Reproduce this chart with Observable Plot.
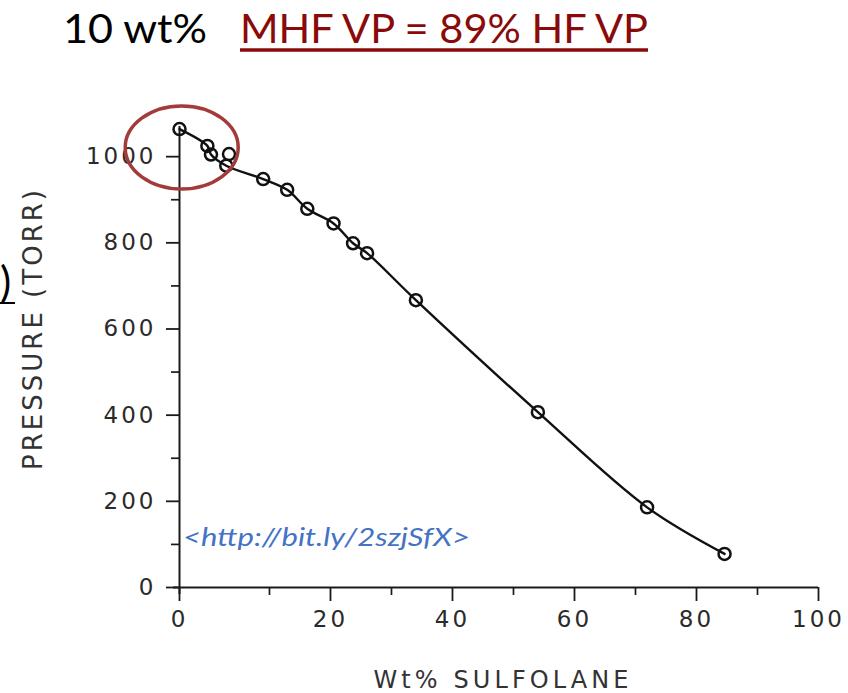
<!DOCTYPE html>
<html>
<head>
<meta charset="utf-8">
<script src="https://cdn.jsdelivr.net/npm/d3@7"></script>
<script src="https://cdn.jsdelivr.net/npm/@observablehq/plot@0.6"></script>
<style>
  body { margin: 0; background: #fff; }
  #chart { width: 848px; height: 693px; overflow: hidden; }
  #chart svg text.ticklab { letter-spacing: 3px; }
</style>
</head>
<body>
<div id="chart"></div>
<script>
// ---- data ----
const wtPct    = [0, 3.1, 3.5, 5.5, 5.2, 9.3, 12.9, 16.2, 20.5, 23.7, 26.0, 34.0, 54.0, 71.9, 84.6];
const pressure = [1064, 1025, 1005, 1006, 979, 948, 923, 879, 845, 799, 776, 667, 407, 186, 78];
const onCurve  = [1, 1, 1, 0, 1, 1, 1, 1, 1, 1, 1, 1, 1, 1, 1];
const xTicks = [0, 20, 40, 60, 80, 100];
const xMinor = [10, 30, 50, 70, 90];
const yTicks = [0, 200, 400, 600, 800, 1000];
const yMinor = [100, 300, 500, 700, 900];
const titleLeft = "10 wt%";
const titleRight = "MHF VP = 89% HF VP";
const xLabel = "Wt% SULFOLANE";
const yLabel = "PRESSURE (TORR)";
const linkText = "<http://bit.ly/2szjSfX>";
const highlight = {x: 0.3, y: 1020};

// the scanned axis is stretched between 0 and 10 (0-10 spans ~1.475x a normal decade)
const stretch = 1.475;
const warp = v => v >= 10 ? v : 10 - (10 - v) * stretch;
const unwarp = u => u >= 10 ? u : 10 - (10 - u) / stretch;

const data = wtPct.map((x, i) => ({x, y: pressure[i], fit: onCurve[i] === 1}));
const fitData = data.filter(d => d.fit).sort((a, b) => a.x - b.x);

const plot = Plot.plot({
  width: 848,
  height: 693,
  marginLeft: 179,
  marginRight: 30,
  marginTop: 126,
  marginBottom: 106,
  style: {fontFamily: "DejaVu Sans", fontSize: "23px", color: "#1a1a1a", background: "white"},
  x: {domain: [warp(0), 100], ticks: xTicks.map(warp), tickFormat: u => String(Math.round(unwarp(u))),
      tickSize: 14, tickPadding: 9, label: null},
  y: {domain: [0, 1070], ticks: yTicks, tickFormat: d => String(d), tickSize: 13, tickPadding: 10, label: null},
  marks: [
    Plot.ruleX([warp(0)], {y1: () => 1070, y2: () => 0, insetBottom: -7, stroke: "#1a1a1a", strokeWidth: 2}),
    Plot.ruleY([0], {x1: () => warp(0), x2: () => 100, insetLeft: -6, stroke: "#1a1a1a", strokeWidth: 2}),
    Plot.ruleX(xMinor.map(warp), {y1: () => 0, y2: () => 0, insetBottom: -8, stroke: "#1a1a1a", strokeWidth: 1.7}),
    Plot.ruleY(yMinor, {x1: () => warp(0), x2: () => warp(0), insetLeft: -8, stroke: "#1a1a1a", strokeWidth: 1.7}),
    Plot.line(fitData, {x: d => warp(d.x), y: "y", curve: "catmull-rom", stroke: "#111", strokeWidth: 2.4}),
    Plot.dot(data, {x: d => warp(d.x), y: "y", r: 6, stroke: "#111", strokeWidth: 2.5, fill: "none"})
  ]
});

document.getElementById("chart").appendChild(plot);

const svg = d3.select(plot);
svg.selectAll("g[aria-label*='axis'] text").classed("ticklab", true).attr("fill", "#2a2a2a");
svg.selectAll("g[aria-label*='axis'] line, g[aria-label*='axis'] path").attr("stroke-width", 1.8);

const xs = plot.scale("x"), ys = plot.scale("y");

// title
svg.append("text").attr("x", 63).attr("y", 43).attr("text-anchor", "start")
  .attr("font-family", "Lato").attr("font-size", 40).attr("fill", "#000")
  .attr("textLength", 144).attr("lengthAdjust", "spacingAndGlyphs")
  .text(titleLeft);
svg.append("text").attr("x", 240).attr("y", 43).attr("text-anchor", "start")
  .attr("font-family", "Lato").attr("font-size", 40).attr("fill", "#8a0a0a")
  .attr("textLength", 408).attr("lengthAdjust", "spacingAndGlyphs")
  .text(titleRight);
svg.append("line").attr("x1", 240).attr("x2", 648).attr("y1", 50).attr("y2", 50)
  .attr("stroke", "#8a0a0a").attr("stroke-width", 3.5);

// clipped fragment at left edge
svg.append("text").attr("x", 0).attr("y", 297).attr("text-anchor", "start")
  .attr("font-family", "Lato").attr("font-size", 42).attr("fill", "#000").text(")");
svg.append("line").attr("x1", 0).attr("x2", 15).attr("y1", 303).attr("y2", 303)
  .attr("stroke", "#000").attr("stroke-width", 2);

// axis labels
svg.append("text").attr("x", 501).attr("y", 688).attr("text-anchor", "middle")
  .attr("font-family", "DejaVu Sans").attr("font-size", 24).attr("fill", "#333")
  .attr("textLength", 255).attr("lengthAdjust", "spacing")
  .text(xLabel);
svg.append("text").attr("transform", "translate(42,330) rotate(-90)").attr("text-anchor", "middle")
  .attr("font-family", "DejaVu Sans").attr("font-size", 26).attr("fill", "#333")
  .attr("textLength", 280).attr("lengthAdjust", "spacing")
  .text(yLabel);

// link
svg.append("text").attr("x", 183).attr("y", 546).attr("text-anchor", "start")
  .attr("font-family", "Lato").attr("font-style", "italic").attr("font-size", 26).attr("fill", "#4472c4")
  .attr("textLength", 287).attr("lengthAdjust", "spacingAndGlyphs")
  .text(linkText);

// highlight ellipse
svg.append("ellipse").attr("cx", xs.apply(warp(highlight.x))).attr("cy", ys.apply(highlight.y))
  .attr("rx", 56.5).attr("ry", 41.5).attr("fill", "none")
  .attr("stroke", "#a33b3b").attr("stroke-width", 3.5);
</script>
</body>
</html>
